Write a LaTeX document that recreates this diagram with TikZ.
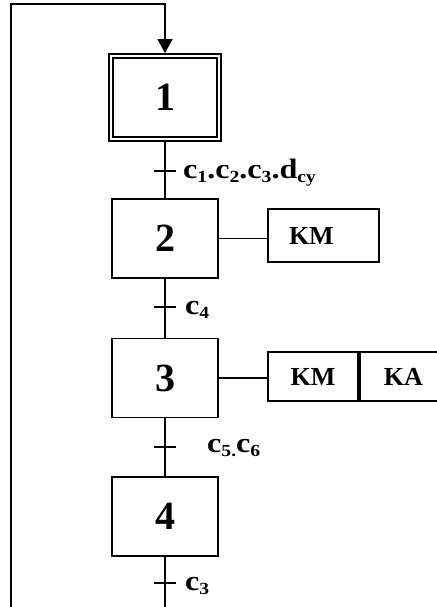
\documentclass[tikz,border=0pt]{standalone}
\usepackage{fontspec}
\setmainfont{Liberation Serif}
\newfontfamily\condfont[FakeStretch=1.15]{Liberation Serif}
\usetikzlibrary{arrows.meta}
\newcommand\sbs[1]{\raisebox{-4.5pt}{\fontsize{17}{17}\selectfont #1}}
\begin{document}
\begin{tikzpicture}[x=1pt,y=-1pt,
  stepbox/.style={draw, line width=1.8pt, minimum width=106pt, minimum height=79pt, inner sep=0pt,
    font=\fontsize{40}{40}\selectfont\bfseries},
  actbox/.style={draw, line width=1.8pt, inner sep=0pt, font=\fontsize{26}{26}\selectfont\bfseries},
  link/.style={line width=1.5pt},
  tick/.style={line width=1.5pt},
  cond/.style={anchor=base west, inner sep=0pt, font=\condfont\fontsize{28}{28}\selectfont\bfseries}]
\useasboundingbox (0,0) rectangle (436,607);
% steps
\node[stepbox, minimum width=112pt, minimum height=87pt] (s1) at (165,97.5) {1};
\draw[line width=1.8pt] ([shift={(5,5)}]s1.north west) rectangle ([shift={(-5,-5)}]s1.south east);
\node[stepbox] (s2) at (165,238.5) {2};
\node[stepbox] (s3) at (165,378) {3};
\node[stepbox] (s4) at (165,516.5) {4};
% actions
\node[actbox, minimum width=111pt, minimum height=53pt, text width=69pt, inner xsep=21pt, align=left] (a2) at (323.5,235.5) {KM};
\node[actbox, minimum width=90pt, minimum height=49pt] (a3a) at (313,376.5) {KM};
\node[actbox, minimum width=87pt, minimum height=49pt, anchor=west] (a3b) at (a3a.east) {KA};
\draw[link] (s2.east) -- (s2.east -| a2.west);
\draw[link] (s3.east) -- (s3.east -| a3a.west);
% transitions
\coordinate (t1) at (165,171);
\coordinate (t2) at (165,307);
\coordinate (t3) at (165,447);
\coordinate (t4) at (165,583);
\coordinate (bot) at (165,610);
\coordinate (bl) at (11,610);
\coordinate (tl) at (11,4);
\draw[link] (s1.south) -- (s2.north);
\draw[link] (s2.south) -- (s3.north);
\draw[link] (s3.south) -- (s4.north);
\draw[link] (s4.south) -- (bot);
\foreach \t in {t1,t2,t3,t4} \draw[tick] ([xshift=-11pt]\t) -- ([xshift=11pt]\t);
\node[cond] (l1) at (183,178) {c\sbs{1}.c\sbs{2}.c\sbs{3}.d\sbs{cy}};
\node[cond] (l2) at (185,314) {c\sbs{4}};
\node[cond] (l3) at (207,452) {c\sbs{5.}c\sbs{6}};
\node[cond] (l4) at (185,590) {c\sbs{3}};
% loop back
\draw[link, -{Triangle[length=14pt,width=15pt]}] (bl) -- (tl) -| (s1.north);
\end{tikzpicture}
\end{document}
